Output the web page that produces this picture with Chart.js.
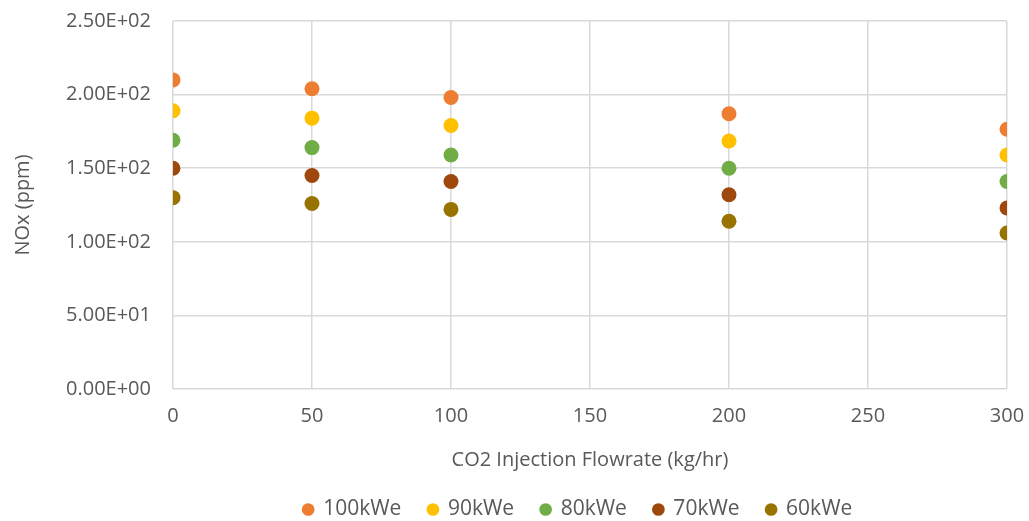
<!DOCTYPE html>
<html lang="en">
<head>
    <meta charset="UTF-8">
    <title>NOx vs CO2 Injection Flowrate</title>
    <style>
        html, body {
            margin: 0;
            padding: 0;
            background: #ffffff;
        }

        .chart-container {
            width: 1029px;
            height: 521px;
            position: relative;
        }
    </style>
</head>
<body>

<div class="chart-container">
    <canvas id="chartCanvas"></canvas>
</div>

<script src="https://cdn.jsdelivr.net/npm/chart.js"></script>
<script>
    const flowrates = [0, 50, 100, 200, 300];
    const seriesLabels = ['100kWe', '90kWe', '80kWe', '70kWe', '60kWe'];
    const nox100 = [210, 204, 198, 187, 176.5];
    const nox90 = [189, 184, 179, 168.5, 159];
    const nox80 = [169, 164, 159, 150, 141];
    const nox70 = [150, 145, 141, 132, 123];
    const nox60 = [130, 126, 122, 114, 106];

    const seriesValues = [nox100, nox90, nox80, nox70, nox60];
    const seriesColors = ['#ED7D31', '#FFC000', '#70AD47', '#9E480E', '#997300'];

    const textColor = '#595959';
    const gridColor = '#d9d9d9';
    const fontFamily = '"Open Sans", sans-serif';

    // 250 -> "2.50E+02"
    function sciLabel(v) {
        if (v === 0) return '0.00E+00';
        const exp = Math.floor(Math.log10(Math.abs(v)));
        const mant = (v / Math.pow(10, exp)).toFixed(2);
        const sign = exp < 0 ? '-' : '+';
        return mant + 'E' + sign + String(Math.abs(exp)).padStart(2, '0');
    }

    // legend row sits a little right of centre and close to the bottom edge
    const legendOffset = {
        id: 'legendOffset',
        afterLayout(chart) {
            const lg = chart.legend;
            lg.left += 69;
            lg.right += 69;
            lg.top -= 6;
        }
    };

    const datasets = seriesLabels.map((label, i) => ({
        label: label,
        data: flowrates.map((x, j) => ({x: x, y: seriesValues[i][j]})),
        backgroundColor: seriesColors[i],
        borderColor: seriesColors[i],
        pointRadius: 7.5,
        pointHoverRadius: 7.5,
        pointBorderWidth: 0,
        showLine: false
    }));

    const ctx = document.getElementById('chartCanvas').getContext('2d');
    new Chart(ctx, {
        type: 'scatter',
        data: {datasets: datasets},
        plugins: [legendOffset],
        options: {
            responsive: true,
            maintainAspectRatio: false,
            animation: false,
            layout: {
                autoPadding: false,
                padding: {left: 11, right: 22, top: 0, bottom: 0}
            },
            plugins: {
                tooltip: {enabled: false},
                legend: {
                    position: 'bottom',
                    maxHeight: 43,
                    labels: {
                        usePointStyle: true,
                        pointStyle: 'circle',
                        boxWidth: 9,
                        boxHeight: 9,
                        padding: 27,
                        color: textColor,
                        font: {family: fontFamily, size: 21}
                    }
                }
            },
            scales: {
                x: {
                    type: 'linear',
                    min: 0,
                    max: 300,
                    afterFit: function(scale) {
                        scale.paddingRight = 0;
                    },
                    ticks: {
                        stepSize: 50,
                        color: textColor,
                        padding: 15,
                        font: {family: fontFamily, size: 20}
                    },
                    grid: {
                        color: gridColor,
                        lineWidth: 1.5,
                        drawTicks: false
                    },
                    border: {display: false},
                    title: {
                        display: true,
                        text: 'CO2 Injection Flowrate (kg/hr)',
                        color: textColor,
                        font: {family: fontFamily, size: 20},
                        padding: {top: 5, bottom: 6}
                    }
                },
                y: {
                    min: 0,
                    max: 250,
                    afterFit: function(scale) {
                        scale.paddingTop = 21;
                    },
                    ticks: {
                        stepSize: 50,
                        color: textColor,
                        padding: 22,
                        font: {family: fontFamily, size: 20},
                        callback: function(value) {
                            return sciLabel(value);
                        }
                    },
                    grid: {
                        color: gridColor,
                        lineWidth: 1.5,
                        drawTicks: false
                    },
                    border: {display: false},
                    title: {
                        display: true,
                        text: 'NOx (ppm)',
                        color: textColor,
                        font: {family: fontFamily, size: 20},
                        padding: {top: 0, bottom: 9}
                    }
                }
            }
        }
    });
</script>

</body>
</html>
